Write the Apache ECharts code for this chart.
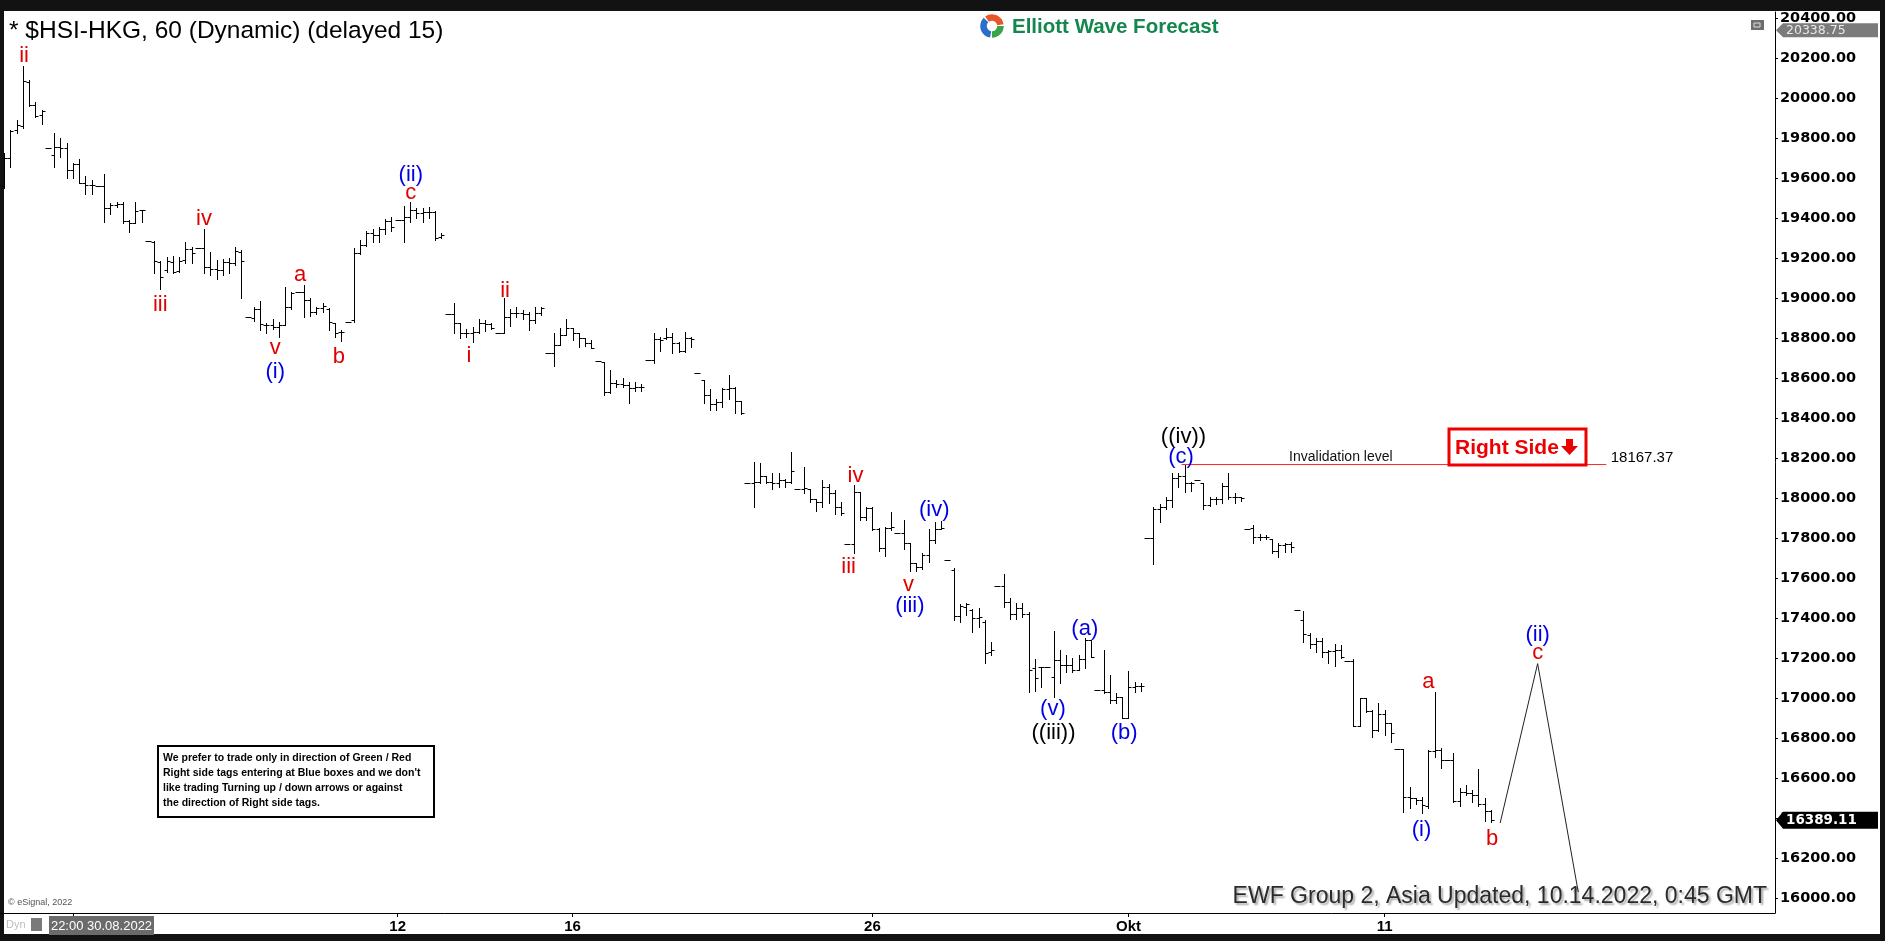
<!DOCTYPE html>
<html><head><meta charset="utf-8">
<script src="https://cdn.jsdelivr.net/npm/echarts@6/dist/echarts.min.js"></script>
<style>html,body{margin:0;padding:0;background:#111;}#c{width:1885px;height:941px;}</style>
</head><body><div id="c"></div>
<script>
// ---------- DATA ----------
const firstBar = 1;
const open = [
19560,19700,19840,19860,20082,19965,19915,19748,19715,19757,
19748,19640,19670,19577,19565,19562,19562,19448,19465,19470,
19387,19377,19440,19285,19280,19182,19140,19182,19135,19190,
19243,19248,19248,19157,19145,19140,19180,19173,19232,18907,
18898,18943,18865,18865,18857,18865,18953,19032,19032,18990,
18932,18948,18945,18877,18828,18882,18890,19223,19265,19327,
19315,19343,19387,19390,19390,19407,19440,19427,19432,19432,
19303,18920,18920,18873,18827,18827,18832,18877,18870,18823,
18823,18907,18923,18927,18920,18890,18923,18723,18723,18765,
18815,18848,18823,18798,18777,18685,18682,18532,18577,18570,
18565,18548,18557,18690,18690,18793,18798,18807,18773,18737,
18798,18627,18590,18515,18470,18482,18543,18548,18487,18073,
18073,18082,18110,18082,18073,18090,18082,18043,18043,18043,
17993,17982,18053,18023,17953,17768,17768,18032,17907,17948,
17843,17748,17848,17827,17827,17773,17673,17657,17715,17790,
17843,17690,17640,17410,17455,17440,17400,17382,17230,17562,
17562,17482,17420,17448,17420,17148,17153,17157,17103,17190,
17165,17165,17140,17193,17290,17040,17040,17032,16990,17007,
16898,17057,17060,17802,17802,17943,17957,17990,18098,18110,
18077,18090,18077,17965,17993,17993,18060,18003,18003,17843,
17848,17807,17807,17793,17737,17765,17770,17440,17390,17315,
17268,17285,17228,17235,17240,17185,17185,16862,16998,16935,
16840,16918,16873,16743,16743,16507,16498,16490,16462,16735,
16740,16690,16690,16485,16532,16523,16515,16468,16435];
const high = [
19723,19840,19890,20160,20090,19982,19940,19748,19823,19798,
19773,19673,19693,19612,19590,19562,19620,19477,19480,19482,
19390,19478,19440,19285,19285,19187,19207,19210,19207,19278,
19257,19248,19343,19232,19190,19193,19198,19257,19240,18907,
18957,18987,18873,18893,18882,19053,19032,19032,19065,18998,
18957,18977,18948,18877,18840,18882,19248,19290,19335,19343,
19357,19393,19403,19390,19460,19482,19448,19448,19453,19437,
19323,18920,18973,18873,18843,18857,18893,18890,18873,18823,
18998,18943,18957,18940,18932,18957,18957,18723,18827,18848,
18893,18848,18823,18798,18790,18685,18682,18640,18590,18598,
18582,18582,18570,18690,18823,18807,18848,18827,18782,18832,
18803,18627,18590,18543,18493,18548,18615,18553,18487,18073,
18182,18177,18110,18123,18127,18093,18232,18043,18153,18043,
17993,18090,18070,18040,17982,17768,18065,18032,17953,17953,
17848,17857,17932,17827,17890,17773,17677,17723,17843,17882,
17887,17690,17648,17470,17477,17443,17448,17390,17282,17562,
17618,17498,17473,17473,17432,17193,17157,17157,17337,17240,
17215,17198,17215,17298,17290,17040,17240,17115,17023,17007,
17137,17082,17073,17802,17953,17970,18003,18127,18123,18167.37,
18082,18090,18077,18003,18003,18073,18127,18027,18007,17843,
17865,17820,17815,17793,17777,17777,17782,17440,17435,17323,
17298,17302,17240,17268,17265,17185,17195,17002,16998,16940,
16973,16940,16873,16743,16743,16557,16498,16507,16740,17032,
16752,16690,16723,16548,16565,16540,16645,16498,16440];
const low = [
19548,19653,19823,19848,19960,19907,19870,19748,19653,19707,
19598,19598,19573,19520,19520,19562,19378,19420,19457,19373,
19328,19373,19382,19285,19127,19047,19132,19127,19132,19173,
19173,19248,19127,19115,19093,19115,19123,19165,18998,18907,
18887,18840,18827,18843,18803,18865,18943,19032,18903,18912,
18920,18932,18840,18807,18785,18882,18882,19220,19260,19282,
19282,19320,19337,19390,19282,19382,19398,19382,19398,19290,
19298,18920,18823,18798,18807,18782,18823,18837,18843,18823,
18823,18860,18907,18893,18840,18877,18915,18723,18660,18765,
18815,18790,18757,18760,18748,18685,18515,18523,18557,18557,
18477,18537,18537,18690,18673,18737,18793,18727,18732,18732,
18753,18627,18477,18440,18440,18457,18493,18427,18420,18073,
17953,18073,18077,18043,18053,18053,18077,18043,18027,17982,
17937,17953,17977,17920,17915,17768,17727,17890,17890,17840,
17737,17710,17840,17827,17743,17637,17637,17643,17682,17773,
17843,17690,17390,17380,17415,17332,17357,17173,17215,17562,
17457,17393,17393,17407,17032,17037,17057,17157,17007,17073,
17132,17132,17138,17148,17203,17040,17027,16977,16973,16898,
16898,17032,17037,17802,17670,17882,17943,17953,18057,18032,
18037,18090,17943,17960,17970,17977,17993,17973,17987,17843,
17773,17790,17793,17727,17703,17732,17732,17440,17282,17252,
17228,17207,17173,17162,17198,17185,16862,16862,16932,16807,
16835,16815,16782,16743,16432,16448,16468,16423,16452,16707,
16652,16690,16482,16462,16515,16478,16462,16385,16378];
const close = [
19698,19837,19865,20085,19965,19912,19937,19748,19757,19748,
19640,19670,19577,19565,19563,19562,19448,19465,19470,19387,
19377,19437,19440,19285,19187,19107,19187,19132,19187,19243,
19223,19248,19157,19145,19140,19180,19173,19235,19187,18907,
18943,18870,18865,18857,18865,18953,19027,19032,18990,18932,
18948,18960,18882,18823,18832,18882,19223,19265,19327,19315,
19343,19387,19357,19390,19407,19440,19427,19432,19432,19298,
19315,18920,18873,18827,18827,18832,18877,18870,18848,18823,
18907,18923,18927,18920,18890,18923,18948,18723,18765,18815,
18848,18823,18798,18777,18748,18685,18532,18577,18570,18565,
18548,18557,18553,18690,18793,18790,18807,18773,18737,18798,
18793,18627,18515,18470,18482,18543,18548,18487,18423,18073,
18082,18110,18082,18073,18090,18082,18137,18043,18048,17993,
17982,18053,18023,17953,17923,17768,18032,17907,17948,17843,
17748,17848,17853,17827,17773,17673,17657,17715,17790,17843,
17848,17690,17410,17460,17470,17400,17407,17223,17240,17562,
17482,17420,17448,17420,17140,17102,17153,17157,17190,17165,
17165,17140,17193,17290,17207,17040,17032,16990,17007,16898,
17057,17060,17060,17802,17943,17957,17990,18098,18110,18077,
18073,18090,17965,17993,17993,18060,18003,18003,17998,17843,
17807,17807,17803,17737,17765,17770,17757,17440,17318,17268,
17285,17232,17235,17240,17207,17185,16862,16998,16935,16840,
16918,16873,16823,16743,16507,16502,16490,16465,16735,16740,
16690,16690,16485,16532,16523,16515,16468,16435,16389.11];

const slotCount = 284;                       // hourly slots incl. empty future area
const xTickIdx  = [12, 64, 92, 140, 181, 222];
const xTickText = ['', '12', '16', '26', 'Okt', '11'];
const yTicks = [16000,16200,16400,16600,16800,17000,17200,17400,17600,17800,18000,
                18200,18400,18600,18800,19000,19200,19400,19600,19800,20000,20200,20400];

const waveText   = ['ii','iii','iv','v','(i)','a','b','(ii)','c','i','ii','iii','iv','v','(iii)','(iv)',
                    '(v)','((iii))','(a)','(b)','((iv))','(c)','(i)','a','b','(ii)','c'];
const waveIdx    = [4.2,26.0,33.0,44.4,44.4,48.4,54.6,66.1,66.1,75.4,81.2,136.2,137.3,145.8,146.0,149.9,
                    168.9,169.0,174.0,180.3,189.8,189.4,227.9,229.0,239.2,246.5,246.5];
const wavePrice  = [20212,18967,19397,18752,18632,19114,18705,19615,19526,18710,19036,17657,18110,17565,17460,17940,
                    16943,16823,17343,16823,18306,18206,16340,17078,16295,17316,17226];
const waveDegree = ['minor','minor','minor','minor','minute','minor','minor','minute','minor','minor','minor','minor','minor','minor','minute','minute',
                    'minute','minuette','minute','minute','minuette','minute','minute','minor','minor','minute','minor'];

const projIdx   = [240.5, 246.5, 253.0];
const projPrice = [16375, 17172, 16030];

const invalidationPrice = 18167.37;
const invalidationFrom = 189.5, invalidationTo = 257.5;
const lastPrice = 16389.11;
const markPrice = 20338.75;

// ---------- CHART ----------
const FF = '"Liberation Sans", Arial, Helvetica, sans-serif';
const FW = '"DejaVu Sans", Verdana, sans-serif';
const degreeColor = {minor:'#e00000', minute:'#0000e6', minuette:'#000000'};
const tickMap = new Map(xTickIdx.map((v, k) => [v, xTickText[k]]));
const categories = Array.from({length: slotCount}, (_, k) => String(k + firstBar));
const ohlc = open.map((o, k) => [k, o, high[k], low[k], close[k]]);
const waves = waveText.map((t, k) => [waveIdx[k], wavePrice[k], k]);

function renderOHLC(params, api) {
  const i = api.value(0);
  const ph = api.coord([i, api.value(2)]);
  const x = Math.round(ph[0]) + 0.5;
  const yh = Math.round(ph[1]);
  const yl = Math.round(api.coord([i, api.value(3)])[1]);
  const yo = Math.round(api.coord([i, api.value(1)])[1]) + 0.5;
  const yc = Math.round(api.coord([i, api.value(4)])[1]) + 0.5;
  const st = {stroke: '#000', lineWidth: 1};
  return {type: 'group', children: [
    {type: 'line', shape: {x1: x, y1: yh, x2: x, y2: yl + 1}, style: st},
    {type: 'line', shape: {x1: x - 3, y1: yo, x2: x, y2: yo}, style: st},
    {type: 'line', shape: {x1: x, y1: yc, x2: x + 3, y2: yc}, style: st}
  ]};
}
function renderWave(params, api) {
  const p = api.coord([api.value(0), api.value(1)]);
  const k = api.value(2);
  return {type: 'text', x: p[0], y: p[1], style: {
    text: waveText[k], fill: degreeColor[waveDegree[k]],
    font: '22px ' + FF, align: 'center', verticalAlign: 'middle'}};
}
function renderNote(params, api) {
  const p = api.coord([api.value(0), api.value(1)]);
  const k = api.value(2);
  const notes = [['Invalidation level', 'center', '14px ' + FF, '#111'],
                 [invalidationPrice.toFixed(2), 'left', '15px ' + FF, '#000']];
  const n = notes[k];
  return {type: 'text', x: p[0], y: p[1], style: {text: n[0], align: n[1], verticalAlign: 'middle', font: n[2], fill: n[3]}};
}

const chart = echarts.init(document.getElementById('c'), null, {width: 1885, height: 941});

const staticGraphics = [
  {type: 'rect', z: -100, silent: true, shape: {x: 4, y: 11, width: 1876, height: 923}, style: {fill: '#fff'}},
  {type: 'text', x: 9, y: 31, style: {text: '* $HSI-HKG, 60 (Dynamic) (delayed 15)', font: '24.5px ' + FF, fill: '#000', verticalAlign: 'middle'}},
  // logo
  {type: 'arc', shape: {cx: 992, cy: 26, r: 8.5, startAngle: Math.PI * 0.55, endAngle: Math.PI * 1.25}, style: {stroke: '#2a6fc9', lineWidth: 6.5, fill: 'none'}},
  {type: 'arc', shape: {cx: 992, cy: 26, r: 8.5, startAngle: Math.PI * 1.3, endAngle: Math.PI * 1.95}, style: {stroke: '#e8562a', lineWidth: 6.5, fill: 'none'}},
  {type: 'arc', shape: {cx: 992, cy: 26, r: 8.5, startAngle: Math.PI * 0.0, endAngle: Math.PI * 0.5}, style: {stroke: '#3aa548', lineWidth: 6.5, fill: 'none'}},
  {type: 'text', x: 1012, y: 27, style: {text: 'Elliott Wave Forecast', font: 'bold 20.5px ' + FF, fill: '#14874e', verticalAlign: 'middle'}},
  // top-right small icon
  {type: 'rect', shape: {x: 1751, y: 20, width: 13, height: 10}, style: {fill: '#6e6e6e'}},
  {type: 'rect', shape: {x: 1754, y: 23, width: 6, height: 4}, style: {fill: 'none', stroke: '#ddd', lineWidth: 1}},
  // notice box
  {type: 'rect', shape: {x: 158, y: 746, width: 276, height: 71}, style: {fill: '#fff', stroke: '#000', lineWidth: 2}},
  {type: 'text', x: 163, y: 751, style: {
    text: 'We prefer to trade only in direction of Green / Red\nRight side tags entering at Blue boxes and we don\'t\nlike trading Turning up / down arrows or against\nthe direction of Right side tags.',
    font: 'bold 10.5px ' + FF, fill: '#000', lineHeight: 15, verticalAlign: 'top'}},
  // Right Side box
  {type: 'rect', z: 20, shape: {x: 1449, y: 429, width: 137, height: 36}, style: {fill: '#fff', stroke: '#ee0000', lineWidth: 3}},
  {type: 'text', z: 21, x: 1455, y: 448, style: {text: 'Right Side', font: 'bold 21px ' + FF, fill: '#ee0000', verticalAlign: 'middle'}},
  {type: 'rect', z: 21, shape: {x: 1566, y: 439, width: 7, height: 8}, style: {fill: '#ee0000'}},
  {type: 'polygon', z: 21, shape: {points: [[1561, 446], [1578, 446], [1569.5, 455]]}, style: {fill: '#ee0000'}},
  // footer texts
  {type: 'text', x: 1767, y: 897, style: {text: 'EWF Group 2, Asia Updated, 10.14.2022, 0:45 GMT', font: '23px ' + FF, fill: '#2a2a2a',
    align: 'right', verticalAlign: 'middle', textShadowColor: 'rgba(0,0,0,0.35)', textShadowBlur: 2, textShadowOffsetX: 2, textShadowOffsetY: 2}},
  {type: 'text', x: 8, y: 903, style: {text: '\u00a9 eSignal, 2022', font: '9px ' + FF, fill: '#555', verticalAlign: 'middle'}},
  {type: 'text', x: 6, y: 925, style: {text: 'Dyn', font: '11px ' + FF, fill: '#bdbdbd', verticalAlign: 'middle'}},
  {type: 'rect', shape: {x: 31, y: 918, width: 11, height: 13}, style: {fill: '#7a7a7a'}},
  {type: 'rect', z: 5, shape: {x: 49, y: 916, width: 105, height: 19}, style: {fill: '#6b6b6b'}},
  {type: 'text', z: 6, x: 101.5, y: 926, style: {text: '22:00 30.08.2022', font: '13px ' + FF, fill: '#fff', align: 'center', verticalAlign: 'middle'}}
];

const option = {
  animation: false,
  backgroundColor: '#121212',
  grid: {left: 1, right: 110, top: 12, bottom: 28, containLabel: false, outerBoundsMode: 'none'},
  xAxis: [
    {type: 'category', data: categories, boundaryGap: true,
     axisLine: {show: true, lineStyle: {color: '#000', width: 1}},
     axisTick: {show: true, alignWithLabel: true, length: 4, lineStyle: {color: '#000'},
                interval: (idx) => tickMap.has(idx + firstBar)},
     axisLabel: {show: true, interval: (idx) => tickMap.has(idx + firstBar),
                 formatter: (v) => tickMap.get(+v) || '', color: '#000', fontWeight: 'bold', fontSize: 15, fontFamily: FF, margin: 6},
     splitLine: {show: false}},
    {type: 'value', min: 0.5, max: slotCount + 0.5, show: false}
  ],
  yAxis: [{type: 'value', position: 'right', min: 15925, max: 20430, scale: true,
    axisLine: {show: true, lineStyle: {color: '#000', width: 1}},
    axisTick: {show: true, length: 3, customValues: yTicks, lineStyle: {color: '#000'}},
    axisLabel: {show: true, customValues: yTicks, formatter: (v) => Number(v).toFixed(2),
                color: '#000', fontWeight: 'bold', fontSize: 14.5, fontFamily: FW, margin: 5},
    splitLine: {show: false}}],
  series: [
    {type: 'custom', name: 'HSI', xAxisIndex: 0, yAxisIndex: 0, renderItem: renderOHLC,
     encode: {x: 0, y: [1, 2, 3, 4]}, data: ohlc, silent: true, clip: true},
    {type: 'line', xAxisIndex: 1, yAxisIndex: 0, silent: true, symbol: 'none', z: 3,
     lineStyle: {color: '#ff2a2a', width: 1},
     data: [[invalidationFrom, invalidationPrice], [invalidationTo, invalidationPrice]]},
    {type: 'line', xAxisIndex: 1, yAxisIndex: 0, silent: true, symbol: 'none', z: 3,
     lineStyle: {color: '#222', width: 1},
     data: projIdx.map((v, k) => [v, projPrice[k]])},
    {type: 'custom', xAxisIndex: 1, yAxisIndex: 0, renderItem: renderWave, data: waves, silent: true, z: 4},
    {type: 'custom', xAxisIndex: 1, yAxisIndex: 0, renderItem: renderNote, silent: true, z: 4,
     data: [[215.0, invalidationPrice + 39, 0], [258.2, invalidationPrice + 33, 1]]}
  ],
  graphic: {elements: staticGraphics}
};
chart.setOption(option);

// price tags on the right axis, positioned through the y scale
const yTag1 = chart.convertToPixel({yAxisIndex: 0}, markPrice);
const yTag2 = chart.convertToPixel({yAxisIndex: 0}, lastPrice);
function tag(y, h, fill, text, font, color) {
  return [
    {type: 'polygon', z: 30, shape: {points: [[1776, y], [1783, y - h / 2], [1878, y - h / 2], [1878, y + h / 2], [1783, y + h / 2]]}, style: {fill: fill}},
    {type: 'text', z: 31, x: 1786, y: y + 0.5, style: {text: text, font: font, fill: color, verticalAlign: 'middle'}}
  ];
}
chart.setOption({graphic: {elements: staticGraphics.concat(
  tag(yTag1, 14, '#7b7b7b', markPrice.toFixed(2), '12.5px ' + FW, '#e8e8e8'),
  tag(yTag2, 17, '#000', lastPrice.toFixed(2), 'bold 13.5px ' + FW, '#fff')
)}}, {replaceMerge: ['graphic']});
</script></body></html>
